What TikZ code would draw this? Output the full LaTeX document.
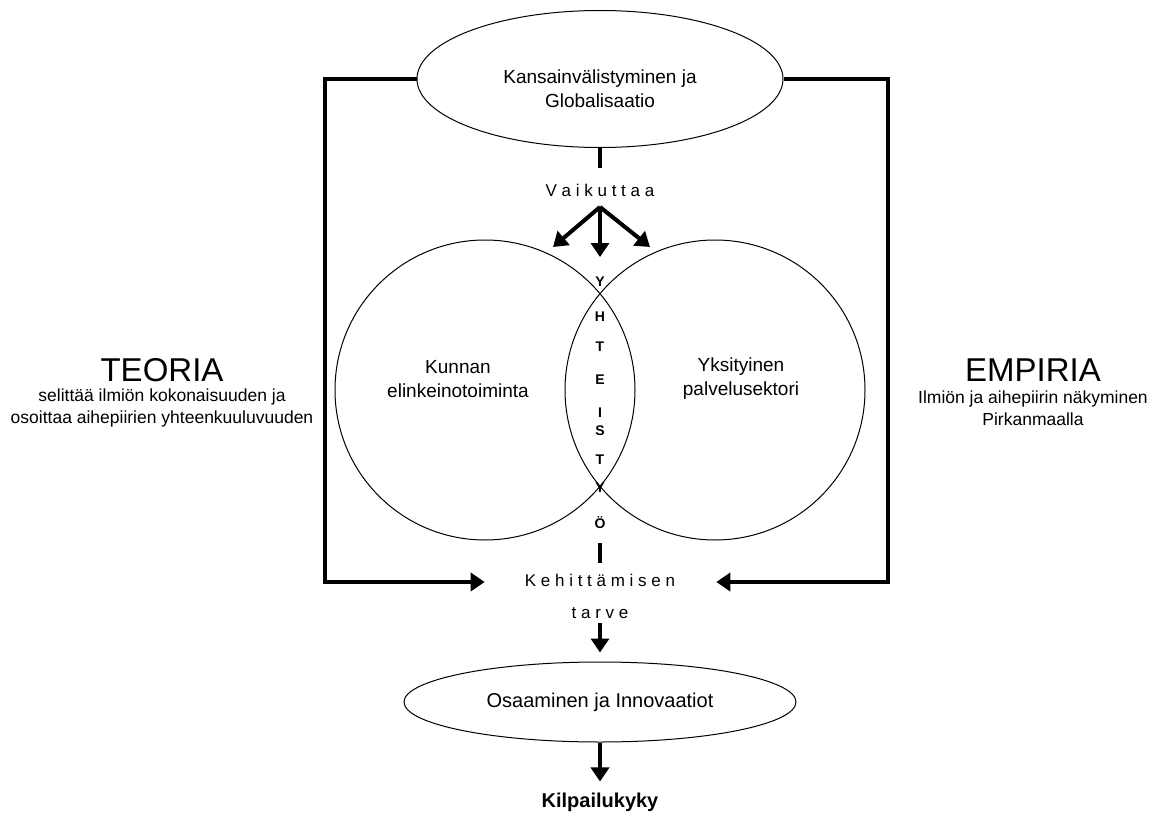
\documentclass[tikz,border=0pt]{standalone}
\usepackage{fontspec}
\setmainfont{Liberation Sans}
\usetikzlibrary{arrows.meta,shapes.geometric}
\begin{document}
\begin{tikzpicture}[x=1pt,y=-1pt,
  thinline/.style={line width=1pt},
  heavy/.style={line width=4pt},
  heavyarrow/.style={line width=4pt,line join=miter,-{Triangle[length=14pt,width=18pt]}},
  txt/.style={inner sep=0pt,align=center,font=\fontsize{19}{24}\selectfont},
  spaced/.style={inner sep=0pt,font=\fontsize{17}{20}\selectfont},
  vert/.style={inner sep=0pt,font=\bfseries\fontsize{14}{14}\selectfont},
  big/.style={inner sep=0pt,font=\fontsize{33}{36}\selectfont},
  sub/.style={inner sep=0pt,align=center,font=\fontsize{17.5}{22}\selectfont}]
\useasboundingbox[fill=white] (0,0) rectangle (1152,814);

% top ellipse
\node[ellipse,draw,thinline,minimum width=366pt,minimum height=137pt,inner sep=0pt] (glob) at (600,79) {};
\node[txt] (globtxt) at (600,89) {Kansainvälistyminen ja\\Globalisaatio};

% Vaikuttaa
\node[spaced] (vaik) at (600,190) {V a i k u t t a a};
\draw[heavy] (glob.south) -- (vaik.north) [shorten >=16pt];
\coordinate (fork) at (600,207);
\coordinate (tl) at (553,247);
\coordinate (td) at (600,257);
\coordinate (tr) at (650,247);
\draw[heavyarrow] (fork) -- (tl);
\draw[heavyarrow] (fork) -- (td);
\draw[heavyarrow] (fork) -- (tr);

% circles
\node[circle,draw,thinline,minimum size=300pt,inner sep=0pt] (cl) at (485,390) {};
\node[circle,draw,thinline,minimum size=300pt,inner sep=0pt] (cr) at (715,390) {};
\node[txt] (kunnan) at (458,379) {Kunnan\\elinkeinotoiminta};
\node[txt] (yks) at (741,379) {Yksityinen\\palvelusektori};

% YHTEISTYÖ
\foreach \l/\y/\n in {Y/282/a,H/317/b,T/347/c,E/380/d,I/413/e,S/431/f,T/460/g,Y/488/h,Ö/523/i}
  \node[vert] (yt\n) at (600,\y) {\l};

% Kehittämisen tarve
\node[spaced] (keh) at (600,580) {K e h i t t ä m i s e n};
\node[spaced] (tarve) at (600,613) {t a r v e};
\draw[heavy] (yti.south) -- (keh.north) [shorten <=14pt, shorten >=11pt];

% side loops
\coordinate (cornL) at (325,582);
\coordinate (cornR) at (888,582);
\draw[heavyarrow,shorten >=40pt] (glob.west) -- (glob.west -| cornL) -- (cornL) -- (keh.west |- cornL);
\draw[heavyarrow,shorten >=41pt] (glob.east) -- (glob.east -| cornR) -- (cornR) -- (keh.east |- cornR);

% bottom
\node[ellipse,draw,thinline,minimum width=392pt,minimum height=80pt,inner sep=0pt,font=\fontsize{20}{24}\selectfont] (osaa) at (600,702) {Osaaminen ja Innovaatiot};
\draw[heavyarrow,shorten <=4pt,shorten >=9pt] (tarve.south) -- (osaa.north);
\node[inner sep=0pt,font=\bfseries\fontsize{20}{24}\selectfont] (kilp) at (600,802) {Kilpailukyky};
\draw[heavyarrow,shorten >=11pt] (osaa.south) -- (kilp.north);

% side texts
\node[big] (teoria) at (162,370) {TEORIA};
\node[sub] (teoriasub) at (162,408) {selittää ilmiön kokonaisuuden ja\\osoittaa aihepiirien yhteenkuuluvuuden};
\node[big] (empiria) at (1033,370) {EMPIRIA};
\node[sub] (empsub) at (1033,408) {Ilmiön ja aihepiirin näkyminen\\Pirkanmaalla};
\end{tikzpicture}
\end{document}
